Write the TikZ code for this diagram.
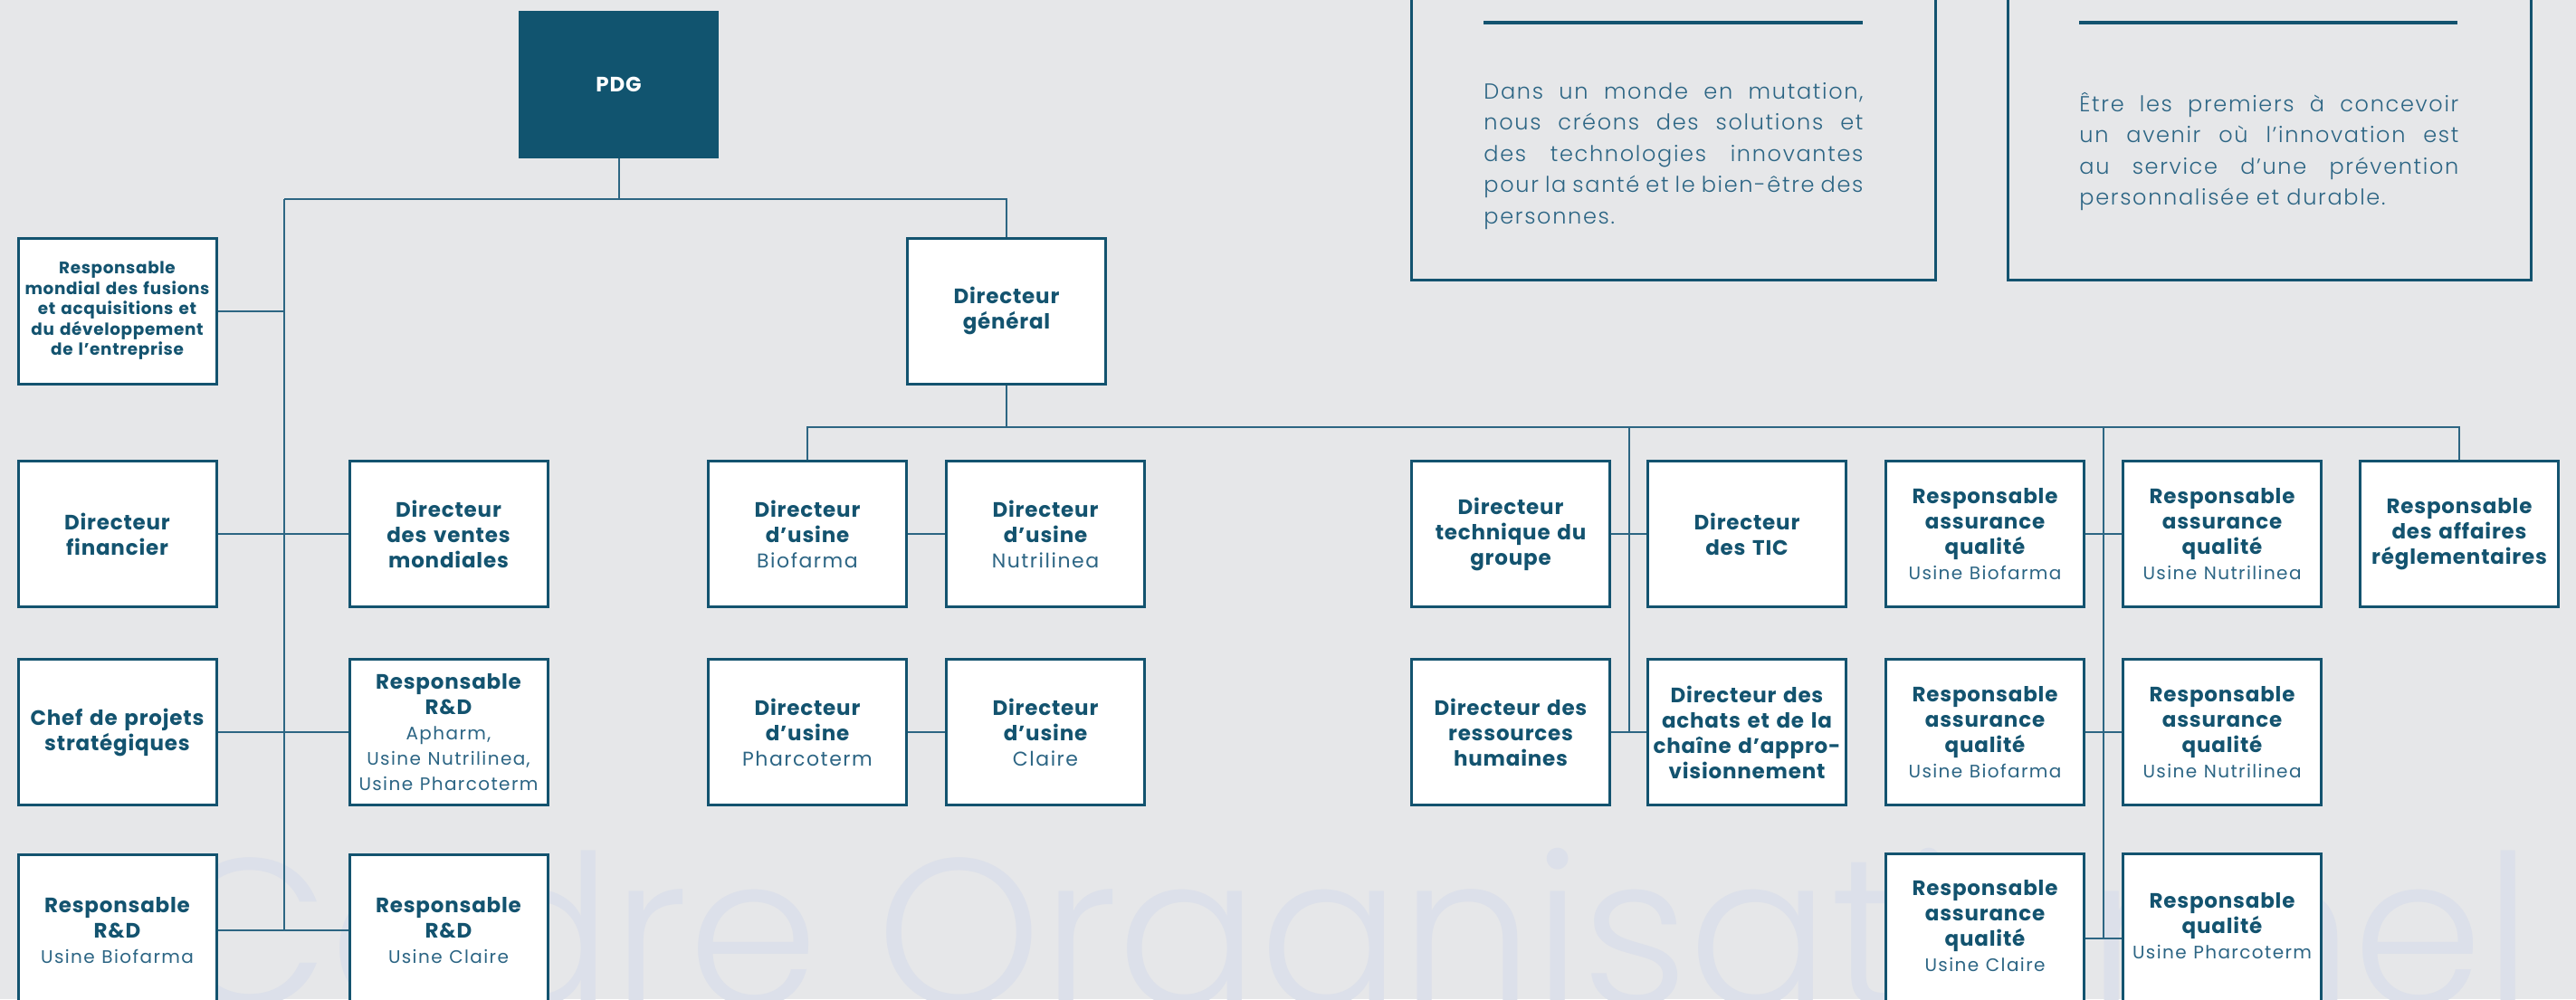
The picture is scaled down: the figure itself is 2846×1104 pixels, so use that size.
\documentclass[tikz,border=0pt]{standalone}
\usepackage{fontspec}
\usepackage{graphicx}
\setmainfont{Poppins}
\newfontfamily\semifam{Poppins Bold}[LetterSpace=3.5]
\newfontfamily\lightfam{Poppins}[LetterSpace=7]
\newfontfamily\parafam{Poppins Light}[LetterSpace=7]
\newfontfamily\wmfam{Poppins Light}
\newcommand\orgtitle{\semifam\fontsize{11.5}{14}\selectfont}
\newcommand\orgsmall{\semifam\fontsize{9.2}{11.25}\selectfont}
\newcommand\orgsub{\lightfam\fontsize{10}{14}\selectfont\color{sblue}}
\newcommand\orgsubL{\lightfam\fontsize{11}{14}\selectfont\color{sblue}}
\newcommand\paratext{\parafam\fontsize{12}{17.25}\selectfont}
\definecolor{bgc}{HTML}{E6E7E9}
\definecolor{dblue}{HTML}{13536F}
\definecolor{pdgc}{HTML}{11546F}
\definecolor{sblue}{HTML}{2C6584}
\definecolor{lblue}{HTML}{2D6683}
\definecolor{wmc}{HTML}{DCE0EA}
\tikzset{
  org/.style={draw=dblue, line width=1.5pt, fill=white, minimum width=109.5pt,
    minimum height=80.5pt, text width=107pt, align=center, inner sep=0pt,
    text=dblue, font=\orgtitle},
  orgtall/.style={org, minimum height=83.5pt},
  orgqa/.style={org, minimum height=93.5pt},
  conn/.style={draw=lblue, line width=1pt},
  panel/.style={draw=dblue, line width=1.5pt},
  rulestyle/.style={draw=dblue, line width=1.75pt},
  para/.style={anchor=base west, inner sep=0pt, text width=209.5pt, align=justify,
    font=\paratext, text=sblue},
}
\begin{document}
\begin{tikzpicture}[x=0.5pt,y=-0.5pt]
\useasboundingbox (0,0) rectangle (2846,1104);
\fill[bgc] (0,0) rectangle (2846,1104);
\begin{scope}
\clip (0,0) rectangle (2846,1104);
% watermark
\node[anchor=base west, inner sep=0pt, text=wmc] (wm) at (185,1111)
  {\resizebox{1305pt}{!}{\wmfam Cadre Organisationnel}};

% text panels
\draw[panel] (1559,-10) -- (1559,309) -- (2138,309) -- (2138,-10);
\draw[panel] (2218,-10) -- (2218,309) -- (2796,309) -- (2796,-10);
\coordinate (r1a) at (1639,25); \coordinate (r1b) at (2058,25);
\coordinate (r2a) at (2297,25); \coordinate (r2b) at (2715,25);
\draw[rulestyle] (r1a) -- (r1b);
\draw[rulestyle] (r2a) -- (r2b);
\node[para] (p1) at (1639,109) {%
\makebox[209.5pt][s]{Dans un monde en mutation,}\\
\makebox[209.5pt][s]{nous créons des solutions et}\\
\makebox[209.5pt][s]{des technologies innovantes}\\
\makebox[209.5pt][s]{pour la santé et le bien-être des}\\
\makebox[209.5pt][l]{personnes.}};
\node[para] (p2) at (2297,123) {%
\makebox[209.5pt][s]{Être les premiers à concevoir}\\
\makebox[209.5pt][s]{un avenir où l’innovation est}\\
\makebox[209.5pt][s]{au service d’une prévention}\\
\makebox[209.5pt][l]{personnalisée et durable.}};

% nodes
\node[draw=pdgc, fill=pdgc, minimum width=110pt, minimum height=81pt, inner sep=0pt,
  text=white, font=\orgtitle] (pdg) at (683.5,93.5) {PDG};
\node[org, font=\orgsmall] (rm) at (129.5,343.5)
  {Responsable\\mondial des fusions\\et acquisitions et\\du développement\\de l’entreprise};
\node[org] (dg) at (1112,343.5) {Directeur\\général};
\node[org] (fin) at (129.5,590) {Directeur\\financier};
\node[org] (ventes) at (495.5,590) {Directeur\\des ventes\\mondiales};
\node[org] (chef) at (129.5,809) {Chef de projets\\stratégiques};
\node[org] (rd1) at (495.5,809)
  {Responsable\\R\&D\\{\orgsub Apharm,}\\{\orgsub Usine Nutrilinea,}\\{\orgsub Usine Pharcoterm}};
\node[orgtall] (rdb) at (129.5,1028) {Responsable\\R\&D\\{\orgsub Usine Biofarma}};
\node[orgtall] (rdc) at (495.5,1028) {Responsable\\R\&D\\{\orgsub Usine Claire}};

\node[org] (du1) at (892,590) {Directeur\\d’usine\\{\orgsubL Biofarma}};
\node[org] (du2) at (1155,590) {Directeur\\d’usine\\{\orgsubL Nutrilinea}};
\node[org] (du3) at (892,809) {Directeur\\d’usine\\{\orgsubL Pharcoterm}};
\node[org] (du4) at (1155,809) {Directeur\\d’usine\\{\orgsubL Claire}};

\node[org] (tech) at (1669,590) {Directeur\\technique du\\groupe};
\node[org] (tic) at (1930,590) {Directeur\\des TIC};
\node[org] (rh) at (1669,809) {Directeur des\\ressources\\humaines};
\node[org] (ach) at (1930,809) {Directeur des\\achats et de la\\chaîne d’appro-\\visionnement};

\node[org] (qa1) at (2193,590) {Responsable\\assurance\\qualité\\{\orgsub Usine Biofarma}};
\node[org] (qa2) at (2455,590) {Responsable\\assurance\\qualité\\{\orgsub Usine Nutrilinea}};
\node[org] (qa3) at (2193,809) {Responsable\\assurance\\qualité\\{\orgsub Usine Biofarma}};
\node[org] (qa4) at (2455,809) {Responsable\\assurance\\qualité\\{\orgsub Usine Nutrilinea}};
\node[orgqa] (qa5) at (2193,1037) {Responsable\\assurance\\qualité\\{\orgsub Usine Claire}\\\mbox{}};
\node[orgqa] (qa6) at (2455,1037) {Responsable\\qualité\\{\orgsub Usine Pharcoterm}\\\mbox{}};
\node[org] (raf) at (2717,590) {Responsable\\des affaires\\réglementaires};

% connectors
\coordinate (jt) at (683.5,220);
\coordinate (tt) at (314,220);
\coordinate (tb) at (314,1028);
\coordinate (hl) at (892,472);
\coordinate (hr) at (2717,472);
\coordinate (tv) at (1799.5,472);
\coordinate (tvb) at (1799.5,809);
\coordinate (qv) at (2324,472);
\coordinate (qvb) at (2324,1037);
\draw[conn] (pdg.south) -- (jt);
\draw[conn] (tt) -- (tt -| dg.north) -- (dg.north);
\draw[conn] (tt) -- (tb);
\draw[conn] (rm.east) -- (rm.east -| tt);
\draw[conn] (fin.east) -- (ventes.west);
\draw[conn] (chef.east) -- (rd1.west);
\draw[conn] (rdb.east) -- (rdc.west);
\draw[conn] (dg.south) -- (dg.south |- hl);
\draw[conn] (du1.north) -- (hl) -- (hr) -- (raf.north);
\draw[conn] (du1.east) -- (du2.west);
\draw[conn] (du3.east) -- (du4.west);
\draw[conn] (tv) -- (tvb);
\draw[conn] (tech.east) -- (tic.west);
\draw[conn] (rh.east) -- (ach.west);
\draw[conn] (qv) -- (qvb);
\draw[conn] (qa1.east) -- (qa2.west);
\draw[conn] (qa3.east) -- (qa4.west);
\draw[conn] (qa5.east) -- (qa6.west);
\end{scope}
\end{tikzpicture}
\end{document}
